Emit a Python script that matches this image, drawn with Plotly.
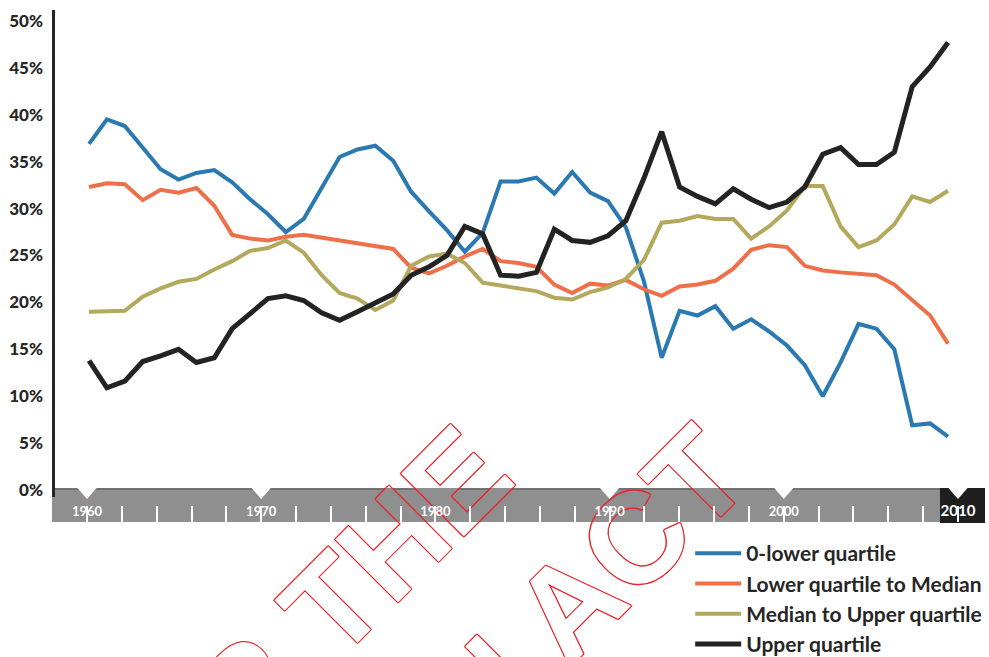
import plotly.graph_objects as go

# ---------------- data ----------------
years = list(range(1960, 2009))

lower_q = [36.9, 39.5, 38.8, 36.5, 34.2, 33.1, 33.8, 34.1, 32.8, 31.0,
           29.4, 27.5, 28.9, 32.2, 35.5, 36.3, 36.7, 35.1, 31.8, 29.7,
           27.7, 25.4, 27.4, 32.9, 32.9, 33.3, 31.6, 33.9, 31.7, 30.8,
           28.0, 22.3, 14.1, 19.1, 18.6, 19.6, 17.2, 18.2, 16.9, 15.4,
           13.3, 10.0, 13.6, 17.7, 17.2, 15.0, 6.9, 7.1, 5.7]

lower_to_median = [32.3, 32.7, 32.6, 30.9, 32.0, 31.7, 32.2, 30.3, 27.2, 26.8,
                   26.6, 27.0, 27.2, 26.9, 26.6, 26.4, 26.1, 25.7, 23.7, 23.1,
                   23.9, 24.9, 25.7, 24.4, 24.2, 23.8, 21.9, 21.0, 22.0, 21.8,
                   22.4, 21.4, 20.7, 21.7, 21.9, 22.3, 23.6, 25.6, 26.1, 25.9,
                   23.9, 23.4, 23.2, 23.1, 22.9, 21.9, 20.3, 18.6, 15.6]

median_to_upper = [19.0, 19.0, 19.1, 20.6, 21.5, 22.2, 22.5, 23.5, 24.4, 25.5,
                   25.8, 26.6, 25.3, 22.9, 21.0, 20.4, 19.2, 20.2, 23.9, 24.9,
                   25.2, 24.2, 22.1, 21.8, 21.5, 21.2, 20.5, 20.3, 21.1, 21.6,
                   22.5, 24.5, 28.5, 28.7, 29.2, 28.9, 28.9, 26.8, 28.1, 29.8,
                   32.4, 32.4, 28.1, 25.9, 26.6, 28.3, 31.3, 30.7, 31.9]

upper_q = [13.8, 10.9, 11.6, 13.7, 14.3, 15.0, 13.6, 14.1, 17.2, 18.8,
           20.4, 20.7, 20.2, 18.9, 18.1, 19.0, 20.0, 20.9, 22.9, 23.8,
           25.0, 28.1, 27.3, 22.9, 22.8, 23.2, 27.8, 26.6, 26.4, 27.1,
           28.7, 33.2, 38.2, 32.3, 31.3, 30.5, 32.1, 31.0, 30.1, 30.7,
           32.3, 35.8, 36.5, 34.7, 34.7, 36.0, 43.0, 45.1, 47.7]

series_names = ["0-lower quartile", "Lower quartile to Median",
                "Median to Upper quartile", "Upper quartile"]
series_values = [lower_q, lower_to_median, median_to_upper, upper_q]
series_colors = ["#2a79b2", "#ee6f48", "#b3a85c", "#232323"]
series_widths = [4, 4, 4, 5]

y_tick_vals = [0, 5, 10, 15, 20, 25, 30, 35, 40, 45, 50]
y_tick_text = [f"{v}%" for v in y_tick_vals]

timeline_years = [1960, 1970, 1980, 1990, 2000, 2010]
timeline_text = ["1960", "1970", "1980", "1990", "2000",
                 "<span style='font-size:15px'><b>2010</b></span>"]

stamp_text = "RELEASED UNDER THE<br>OFFICIAL INFORMATION ACT"

# ---------------- styling constants ----------------
FONT = "Lato"
DARK = "#262626"
BAR_GREY = "#8f8f8f"
STAMP_RED = "#e8282e"
STAMP_SHADOW = ", ".join(f"{dx}px {dy}px 0 {STAMP_RED}" for dx, dy in
                         [(1, 0), (-1, 0), (0, 1), (0, -1), (1, 1), (-1, -1), (1, -1), (-1, 1)])

# page geometry (px): plot area x 55..985, y 10..657 ; chart area y 10..522
H = 657
def py(p):          # page-pixel y -> paper fraction
    return (H - p) / 647

BAR_TOP, BAR_BOT = 488, 522
STAMP_CX, STAMP_CY = 19, H - 1036    # stamp centre in pixel units of the stamp axes

fig = go.Figure()

# watermark stamp: white interior everywhere, grey interior over the timeline bar
for xa, ya, fill in [("x", "y", "white"), ("x2", "y2", BAR_GREY)]:
    fig.add_trace(go.Bar(
        x=[STAMP_CX], y=[2], base=[STAMP_CY - 1], width=[2],
        xaxis=xa, yaxis=ya, marker=dict(color="rgba(0,0,0,0)", line=dict(width=0)),
        text=[stamp_text], textposition="inside", textangle=-45,
        constraintext="none", insidetextanchor="middle",
        insidetextfont=dict(family="Liberation Sans", size=129, weight="bold",
                            color=fill, shadow=STAMP_SHADOW),
        showlegend=False, hoverinfo="skip", cliponaxis=True,
    ))

for name, vals, col, w in zip(series_names, series_values, series_colors, series_widths):
    fig.add_trace(go.Scatter(
        x=years, y=vals, name=name, mode="lines", xaxis="x4", yaxis="y3",
        line=dict(color=col, width=w),
    ))

shapes = []
shapes.append(dict(type="rect", xref="paper", yref="paper", layer="below",
                   x0=-0.0032, x1=1.0, y0=py(BAR_BOT), y1=py(BAR_TOP),
                   fillcolor=BAR_GREY, line=dict(width=0)))
shapes.append(dict(type="line", xref="paper", yref="paper", layer="below",
                   x0=-0.0032, x1=1.0, y0=py(BAR_TOP + 1), y1=py(BAR_TOP + 1),
                   line=dict(color="#727272", width=2)))
shapes.append(dict(type="rect", xref="paper", yref="paper", layer="below",
                   x0=0.9516, x1=1.0, y0=py(BAR_BOT + 1), y1=py(BAR_TOP),
                   fillcolor="#1f1f1f", line=dict(width=0)))
for yr in timeline_years:
    shapes.append(dict(type="path", xref="x3", yref="paper", layer="below",
                       path=f"M {yr-0.65},{py(486)} L {yr+0.65},{py(486)} L {yr},{py(499)} Z",
                       fillcolor="white", line=dict(width=0)))
shapes.append(dict(type="line", xref="paper", yref="paper", layer="above",
                   x0=-0.0016, x1=-0.0016, y0=py(497), y1=1.0,
                   line=dict(color=DARK, width=3)))

hidden = dict(visible=False, showgrid=False, zeroline=False, fixedrange=True)

fig.update_layout(
    width=989, height=657,
    margin=dict(l=55, r=4, t=10, b=0, autoexpand=False),
    paper_bgcolor="white", plot_bgcolor="rgba(0,0,0,0)",
    font=dict(family=FONT, color=DARK),
    shapes=shapes,
    showlegend=True,
    bargap=0,
    legend=dict(
        x=0.683, y=py(533), xanchor="left", yanchor="top",
        font=dict(family=FONT, size=21, color=DARK, weight="bold"),
        bgcolor="rgba(0,0,0,0)", itemwidth=46,
    ),
    # stamp axes (pixel units)
    xaxis=dict(domain=[0, 1], range=[55, 985], anchor="y", **hidden),
    yaxis=dict(domain=[0, 1], range=[0, 647], anchor="x", **hidden),
    xaxis2=dict(domain=[0, 1], range=[55, 985], anchor="y2", **hidden),
    yaxis2=dict(domain=[py(BAR_BOT), py(BAR_TOP)], range=[H - BAR_BOT, H - BAR_TOP],
                anchor="x2", **hidden),
    # timeline axis
    xaxis3=dict(
        domain=[0, 1], anchor="y3",
        range=[1958.163, 2011.55],
        tickvals=timeline_years, ticktext=timeline_text,
        ticklabelposition="inside", ticks="",
        tickfont=dict(family=FONT, size=13, color="white", weight="bold"),
        showgrid=False, zeroline=False, showline=False,
        minor=dict(dtick=2, tick0=1960, ticks="inside", ticklen=16,
                   tickwidth=2, tickcolor="white", showgrid=False),
    ),
    # data axis
    xaxis4=dict(range=[1958.100, 2010.067], overlaying="x3", anchor="y3",
                visible=False, showgrid=False, zeroline=False),
    yaxis3=dict(
        domain=[py(BAR_BOT), 1.0], anchor="x3",
        range=[-3.41, 51.17],
        tickvals=y_tick_vals, ticktext=y_tick_text, ticks="",
        ticklabelstandoff=11,
        tickfont=dict(family=FONT, size=17, color=DARK, weight=900),
        showgrid=False, zeroline=False, showline=False,
    ),
)

fig.write_html("out.html")
